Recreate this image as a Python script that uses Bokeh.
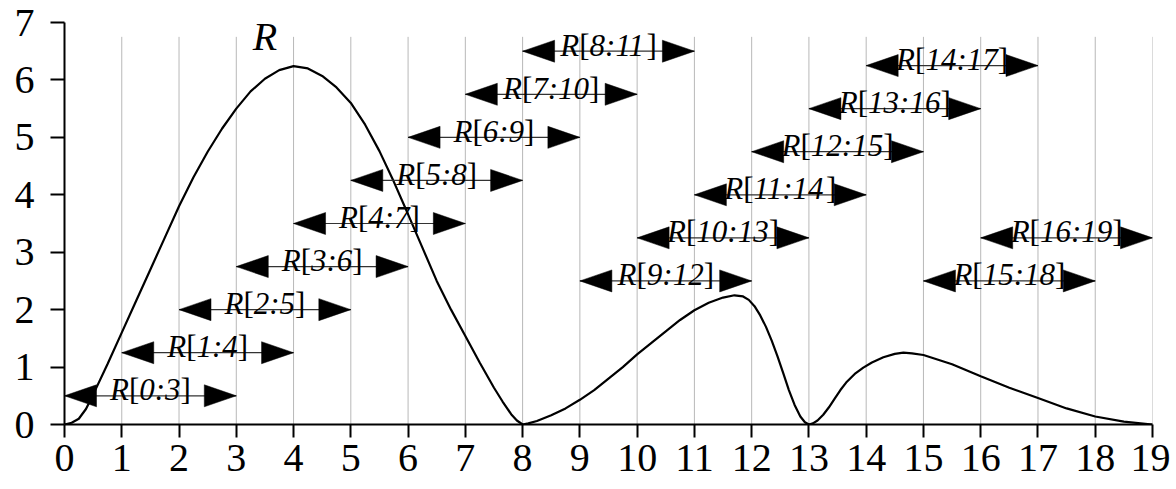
from bokeh.plotting import figure
from bokeh.models import ColumnDataSource, FixedTicker
from bokeh.core.properties import value
from bokeh.embed import file_html
from bokeh.resources import INLINE

# ---------------- data ----------------
x_ticks = list(range(0, 20))
y_ticks = list(range(0, 8))
grid_x = list(range(1, 20))

curve_x = [0, 0.125, 0.25, 0.375, 0.5, 0.75, 1, 1.25, 1.5, 1.75, 2, 2.25, 2.5, 2.75, 3, 3.25, 3.5, 3.75,
           4, 4.25, 4.5, 4.75, 5, 5.25, 5.5, 5.75, 6, 6.25, 6.5, 6.75, 7, 7.25, 7.5, 7.65, 7.8, 7.9, 8,
           8.1, 8.25, 8.5, 8.75, 9, 9.25, 9.5, 9.75, 10, 10.25, 10.5, 10.75, 11, 11.25, 11.5, 11.7, 11.85,
           11.95, 12.05, 12.15, 12.25, 12.35, 12.45, 12.55, 12.65, 12.75, 12.85, 12.93, 13,
           13.07, 13.15, 13.25, 13.35, 13.45, 13.55, 13.65, 13.8, 13.95, 14.1, 14.3, 14.5, 14.65, 14.8,
           15, 15.5, 16, 16.5, 17, 17.5, 18, 18.5, 19]
curve_y = [0, 0.03, 0.1, 0.27, 0.52, 1.05, 1.6, 2.15, 2.7, 3.25, 3.8, 4.3, 4.75, 5.15, 5.5, 5.8, 6.02, 6.17,
           6.24, 6.2, 6.07, 5.87, 5.6, 5.22, 4.76, 4.23, 3.66, 3.08, 2.5, 2.0, 1.54, 1.08, 0.64, 0.4, 0.18, 0.07, 0,
           0.02, 0.06, 0.16, 0.28, 0.43, 0.6, 0.8, 1.0, 1.22, 1.42, 1.62, 1.82, 1.99, 2.12, 2.21, 2.25, 2.23,
           2.17, 2.06, 1.9, 1.7, 1.46, 1.19, 0.9, 0.6, 0.34, 0.14, 0.04, 0,
           0.02, 0.07, 0.17, 0.3, 0.45, 0.6, 0.73, 0.88, 0.99, 1.08, 1.17, 1.23, 1.25, 1.24,
           1.21, 1.05, 0.84, 0.64, 0.46, 0.28, 0.14, 0.05, 0]

slice_start = [0, 1, 2, 3, 4, 5, 6, 7, 8, 9, 10, 11, 12, 13, 14, 15, 16]
slice_end = [3, 4, 5, 6, 7, 8, 9, 10, 11, 12, 13, 14, 15, 16, 17, 18, 19]
slice_level = [0.5, 1.25, 2.0, 2.75, 3.5, 4.25, 5.0, 5.75, 6.5,
               2.5, 3.25, 4.0, 4.75, 5.5, 6.25, 2.5, 3.25]

# ---------------- layout ----------------
W, H = 1170, 489
BL, BR, BT, BB = 64, 18, 22, 65
FW, FH = W - BL - BR, H - BT - BB
XMAX, YMAX = 19, 7
sx, sy = FW / XMAX, FH / YMAX
FONT = "'Liberation Serif'"

p = figure(width=W, height=H, x_range=(0, XMAX), y_range=(0, YMAX),
           output_backend="svg", toolbar_location=None,
           min_border_left=BL, min_border_right=BR, min_border_top=BT, min_border_bottom=BB)
p.outline_line_color = None
p.xgrid.visible = False
p.ygrid.visible = False
p.background_fill_color = "white"

for ax, ticks, tout, stand in ((p.xaxis, x_ticks, 13, 7), (p.yaxis, y_ticks, 14, 16)):
    ax.ticker = FixedTicker(ticks=ticks)
    ax.axis_line_width = 2
    ax.axis_line_color = "black"
    ax.major_tick_line_width = 2
    ax.major_tick_line_color = "black"
    ax.major_tick_out = tout
    ax.major_tick_in = 0
    ax.minor_tick_in = 0
    ax.minor_tick_out = 0
    ax.major_label_text_font = FONT
    ax.major_label_text_font_size = "40px"
    ax.major_label_text_color = "black"
    ax.major_label_standoff = stand

# vertical grid lines
p.segment(x0=grid_x, y0=[0] * len(grid_x), x1=grid_x, y1=[6.75] * len(grid_x),
          line_color="#b8b8b8", line_width=1)

# curve
p.line(curve_x, curve_y, line_color="black", line_width=2.2)
p.text(x=[3.5], y=[6.76], text=["R"], text_font=value(FONT), text_font_style="italic",
       text_font_size="40px", text_align="center", text_baseline="middle", text_color="black")

# arrows
HL, HW = 32, 22  # arrow head length / width in px
p.segment(x0=slice_start, y0=slice_level, x1=slice_end, y1=slice_level,
          line_color="#333333", line_width=1.2)
xs, ys = [], []
for s, e, h in zip(slice_start, slice_end, slice_level):
    dx, dy = HL / sx, HW / 2 / sy
    xs.append([s, s + dx, s + dx]); ys.append([h, h + dy, h - dy])
    xs.append([e, e - dx, e - dx]); ys.append([h, h + dy, h - dy])
p.patches(xs, ys, fill_color="black", line_color="black", line_width=0.5)

# labels with mixed italic/roman pieces
FS = 31
ital_w = {"R": 0.611, ":": 0.333}
for d in "0123456789":
    ital_w[d] = 0.5
rom_w = {"[": 0.333, "]": 0.333}

it = dict(x=[], y=[], text=[], xo=[])
rm = dict(x=[], y=[], text=[], xo=[])
for s, e, h in zip(slice_start, slice_end, slice_level):
    mid = f"{s}:{e}"
    pieces = [("R", it), ("[", rm), (mid, it), ("]", rm)]
    widths = []
    for t, tgt in pieces:
        table = ital_w if tgt is it else rom_w
        widths.append(sum(table[c] for c in t) * FS)
    total = sum(widths)
    cur = -total / 2
    cx = (s + e) / 2
    for (t, tgt), w in zip(pieces, widths):
        tgt["x"].append(cx); tgt["y"].append(h); tgt["text"].append(t); tgt["xo"].append(cur)
        cur += w

for src, style in ((it, "italic"), (rm, "normal")):
    cds = ColumnDataSource(src)
    p.text(x="x", y="y", text="text", x_offset="xo", y_offset=-6, source=cds,
           text_font=value(FONT), text_font_style=style, text_font_size=f"{FS}px",
           text_align="left", text_baseline="alphabetic", text_color="black")

open("out.html", "w").write(file_html(p, INLINE))
